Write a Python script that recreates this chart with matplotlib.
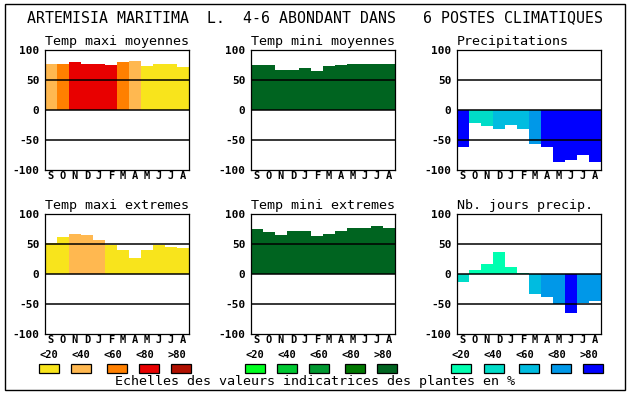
import matplotlib
matplotlib.use('Agg')
import matplotlib.pyplot as plt
from matplotlib.patches import Rectangle

# months Sept -> Aug
months = ['S', 'O', 'N', 'D', 'J', 'F', 'M', 'A', 'M', 'J', 'J', 'A']

# values (% of plants), and class index 0..4 (<20 <40 <60 <80 >80)
tmax_moy = [77, 77, 80, 77, 77, 75, 80, 82, 74, 77, 77, 72]
tmax_moy_cls = [1, 2, 3, 3, 3, 3, 2, 1, 0, 0, 0, 0]

tmin_moy = [75, 75, 67, 67, 70, 65, 73, 75, 77, 77, 77, 77]
tmin_moy_cls = [4] * 12

precip = [-61, -22, -27, -32, -25, -32, -57, -61, -87, -83, -75, -87]
precip_cls = [4, 1, 1, 2, 2, 2, 3, 4, 4, 4, 4, 4]

tmax_ext = [52, 62, 67, 65, 57, 48, 40, 27, 40, 48, 45, 43]
tmax_ext_cls = [0, 0, 1, 1, 1, 0, 0, 0, 0, 0, 0, 0]

tmin_ext = [75, 70, 65, 72, 72, 63, 67, 72, 77, 77, 80, 77]
tmin_ext_cls = [4] * 12

nb_jours = [-13, 7, 17, 37, 12, 2, -33, -38, -50, -65, -48, -45]
nb_jours_cls = [1, 0, 0, 0, 0, 0, 2, 3, 3, 4, 3, 3]

legend_labels = ['<20', '<40', '<60', '<80', '>80']

TEMP_COLORS = ['#f8e41c', '#ffb850', '#ff8000', '#e80000', '#b01000']
GREEN_COLORS = ['#00ff20', '#00c832', '#009830', '#007800', '#006420']
BLUE_COLORS = ['#00ffb0', '#00dcc8', '#00bce0', '#0098e8', '#0000ff']

W, H = 630, 394
MONO = 'DejaVu Sans Mono'

fig = plt.figure(figsize=(W / 100, H / 100), dpi=100)
fig.patch.set_facecolor('white')


def fx(px):
    return px / W


def fy(py):
    return 1 - py / H


panels = [
    ('Temp maxi moyennes', tmax_moy, tmax_moy_cls, TEMP_COLORS, 45, 50),
    ('Temp mini moyennes', tmin_moy, tmin_moy_cls, GREEN_COLORS, 251, 50),
    ('Precipitations', precip, precip_cls, BLUE_COLORS, 457, 50),
    ('Temp maxi extremes', tmax_ext, tmax_ext_cls, TEMP_COLORS, 45, 214),
    ('Temp mini extremes', tmin_ext, tmin_ext_cls, GREEN_COLORS, 251, 214),
    ('Nb. jours precip.', nb_jours, nb_jours_cls, BLUE_COLORS, 457, 214),
]

for title, vals, cls, palette, left, top in panels:
    ax = fig.add_axes([fx(left), fy(top + 120), 144 / W, 120 / H])
    xs = [i + 0.5 for i in range(len(vals))]
    ax.bar(xs, vals, width=1.0, color=[palette[c] for c in cls],
           linewidth=0, zorder=1)
    for yv in (50, 0, -50):
        ax.axhline(yv, color='black', lw=1.1, zorder=3)
    ax.set_xlim(0, 12)
    ax.set_ylim(-100, 100)
    ax.set_yticks([-100, -50, 0, 50, 100])
    ax.set_yticklabels(['-100', '-50', '0', '50', '100'],
                       fontfamily=MONO, fontweight='bold', fontsize=8)
    ax.set_xticks(xs)
    ax.set_xticklabels(months, fontfamily=MONO, fontweight='bold', fontsize=7.5)
    ax.tick_params(length=0, pad=4)
    ax.tick_params(axis='x', pad=1)
    for sp in ax.spines.values():
        sp.set_linewidth(0.9)
    # titles sit flush with the left edge of the frame
    ax.text(0.0, 1.02, title, transform=ax.transAxes, ha='left', va='bottom',
            fontfamily=MONO, fontsize=9.6)

# legends
legend_rows = [
    (TEMP_COLORS, [49, 81, 113, 145, 177], [39, 71, 107, 139, 171]),
    (GREEN_COLORS, [255, 287, 319, 351, 383], [245, 277, 309, 345, 377]),
    (BLUE_COLORS, [461, 493, 525, 557, 589], [451, 484, 519, 551, 583]),
]
for palette, label_x, box_x in legend_rows:
    for lab, lx, bx, col in zip(legend_labels, label_x, box_x, palette):
        fig.text(fx(lx), fy(355), lab, ha='center', va='center',
                 fontfamily=MONO, fontweight='bold', fontsize=7.5)
        fig.add_artist(Rectangle((fx(bx), fy(373)), 20 / W, 9 / H,
                                 transform=fig.transFigure, facecolor=col,
                                 edgecolor='black', lw=0.9))

fig.text(0.5, fy(18), 'ARTEMISIA MARITIMA  L.  4-6 ABONDANT DANS   6 POSTES CLIMATIQUES',
         ha='center', va='center', fontfamily=MONO, fontsize=10.7)
fig.text(fx(315), fy(382), 'Echelles des valeurs indicatrices des plantes en %',
         ha='center', va='center', fontfamily=MONO, fontsize=9.6)

# outer frame
fig.add_artist(Rectangle((fx(5), fy(390)), 620 / W, 386 / H,
                         transform=fig.transFigure, facecolor='none',
                         edgecolor='black', lw=1.0))

fig.savefig('out.png', dpi=100)
